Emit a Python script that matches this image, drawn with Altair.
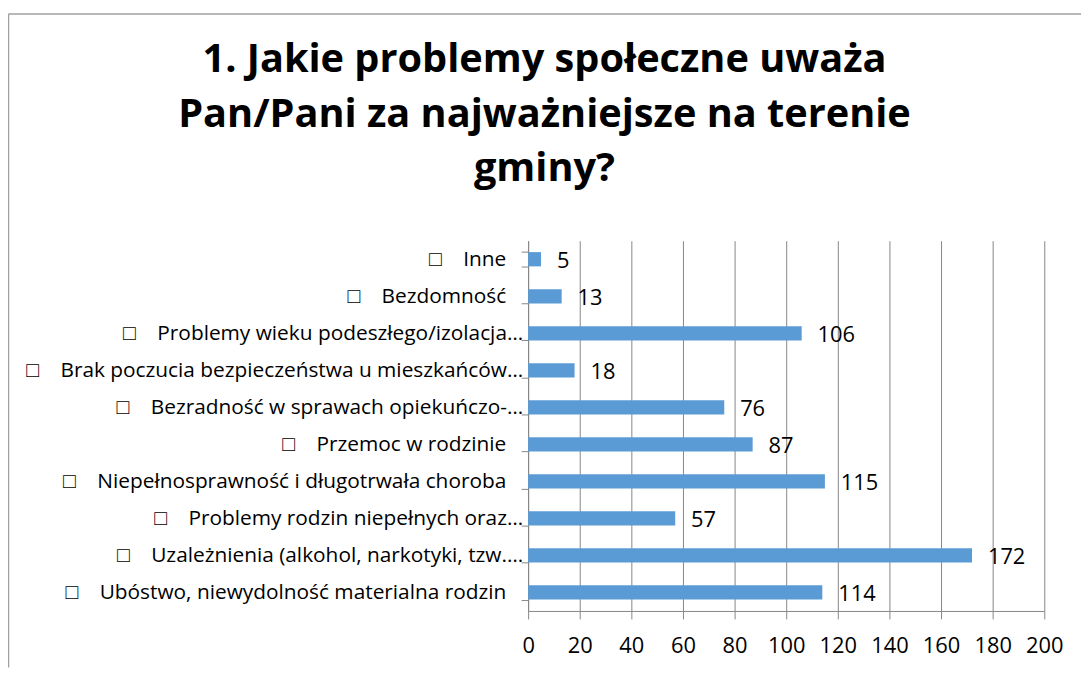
import altair as alt
import pandas as pd

FONT = "Open Sans, sans-serif"
NB = "\u00a0"
BOX = "\u25a1" + NB * 4

categories = [
    BOX + "Inne",
    BOX + "Bezdomność",
    BOX + "Problemy wieku podeszłego/izolacja…",
    BOX + "Brak poczucia bezpieczeństwa u mieszkańców…",
    BOX + "Bezradność w sprawach opiekuńczo-…",
    BOX + "Przemoc w rodzinie",
    BOX + "Niepełnosprawność i długotrwała choroba",
    BOX + "Problemy rodzin niepełnych oraz…",
    BOX + "Uzależnienia (alkohol, narkotyki, tzw.…",
    BOX + "Ubóstwo, niewydolność materialna rodzin",
]
values = [5, 13, 106, 18, 76, 87, 115, 57, 172, 114]
x_ticks = [0, 20, 40, 60, 80, 100, 120, 140, 160, 180, 200]
title_lines = [
    "1. Jakie problemy społeczne uważa",
    "Pan/Pani za najważniejsze na terenie",
    "gminy?",
]

df = pd.DataFrame({"kat": categories, "n": values})

W, H = 520, 373
PAD = {"left": 524, "top": 232, "right": 37, "bottom": 57}
GRAY = "#868686"

y_enc = alt.Y(
    "kat:N",
    sort=categories,
    title=None,
    scale=alt.Scale(paddingInner=0.615, paddingOuter=0.3075),
    axis=alt.Axis(
        tickBand="extent",
        tickSize=7,
        tickColor=GRAY,
        domainColor=GRAY,
        labels=False,
        grid=False,
    ),
)
x_enc = alt.X(
    "n:Q",
    title=None,
    scale=alt.Scale(domain=[0, 200], nice=False),
    axis=alt.Axis(
        values=x_ticks,
        tickSize=8,
        tickColor=GRAY,
        domainColor=GRAY,
        gridColor=GRAY,
        gridOpacity=1,
        gridWidth=1,
        labelFont=FONT,
        labelFontSize=22,
        labelColor="#000000",
        labelPadding=17,
        labelFlush=False,
    ),
)

base = alt.Chart(df).transform_calculate(
    cut="indexof(datum.kat, '…') >= 0"
)

bars = base.mark_bar(color="#5B9BD5").encode(x=x_enc, y=y_enc)
values_text = base.mark_text(
    align="left", baseline="middle", dx=16, dy=2, fontSize=22, font=FONT, color="#000000"
).encode(x="n:Q", y=alt.Y("kat:N", sort=categories), text="n:Q")

cat_full = base.transform_filter("!datum.cut").mark_text(
    align="right", baseline="middle", fontSize=21, font=FONT, color="#000000", dy=1
).encode(x=alt.value(-22), y=alt.Y("kat:N", sort=categories), text="kat:N")
cat_cut = base.transform_filter("datum.cut").mark_text(
    align="right", baseline="middle", fontSize=21, font=FONT, color="#000000", dy=1
).encode(x=alt.value(-5), y=alt.Y("kat:N", sort=categories), text="kat:N")

one = alt.Data(values=[{}])
title = alt.Chart(one).mark_text(
    text=title_lines,
    align="center",
    baseline="alphabetic",
    fontSize=40,
    fontWeight="bold",
    font=FONT,
    lineHeight=55,
    color="#000000",
).encode(x=alt.value(16.5), y=alt.value(-170))

border_top = alt.Chart(one).mark_rule(color="#a0a0a0", strokeWidth=1.5).encode(
    x=alt.value(-523.5), x2=alt.value(W + PAD["right"]), y=alt.value(-228.5)
)
border_left = alt.Chart(one).mark_rule(color="#a0a0a0", strokeWidth=1.5).encode(
    x=alt.value(-523.5), y=alt.value(-228.5), y2=alt.value(H + PAD["bottom"])
)

chart = alt.layer(
    border_top, border_left, bars, values_text, cat_full, cat_cut, title
).properties(
    width=W,
    height=H,
    padding=PAD,
    autosize=alt.AutoSizeParams(type="none"),
).configure_view(stroke=None)

chart.save("out.html", embed_options={"renderer": "svg", "actions": False})
